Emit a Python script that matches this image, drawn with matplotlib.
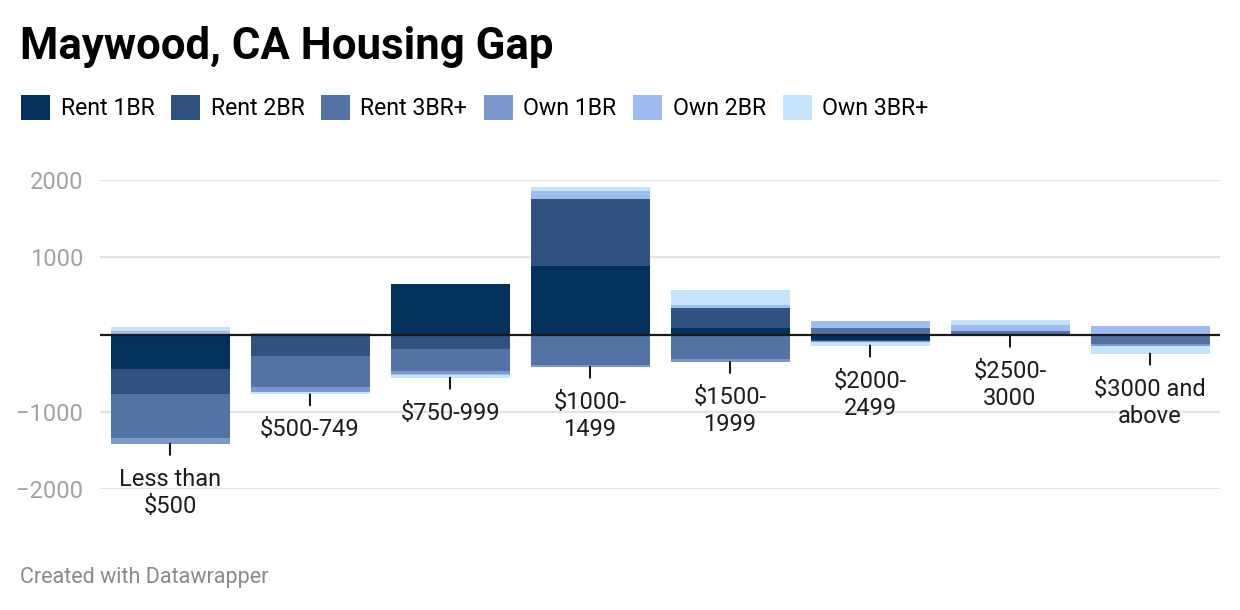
import matplotlib
matplotlib.use("Agg")
import matplotlib.pyplot as plt
from matplotlib.patches import Patch
import numpy as np

categories = ["Less than\n$500", "$500-749", "$750-999", "$1000-\n1499",
              "$1500-\n1999", "$2000-\n2499", "$2500-\n3000", "$3000 and\nabove"]
series_names = ["Rent 1BR", "Rent 2BR", "Rent 3BR+", "Own 1BR", "Own 2BR", "Own 3BR+"]

rent_1br = [-445, 0, 658, 892, 87, -69, 0, 0]
rent_2br = [-325, -273, -186, 857, 260, -17, 0, 0]
rent_3br = [-571, -411, -286, -394, -316, 87, 43, -117]
own_1br = [-74, -65, -35, -22, -39, -9, -15, -26]
own_2br = [43, 25, -17, 104, 39, 91, 78, 110]
own_3br = [52, -26, -35, 52, 195, -48, 65, -104]

colors = ["#03315c", "#2f5280", "#5373a4", "#7b99cf", "#9ebcf0", "#c6e3fc"]

plt.rcParams['font.family'] = ['Roboto', 'DejaVu Sans']

fig = plt.figure(figsize=(12.4, 6.1), dpi=100)
ax = fig.add_axes([100 / 1240, 1 - 489 / 610, 1120 / 1240, 309 / 610])

all_series = [rent_1br, rent_2br, rent_3br, own_1br, own_2br, own_3br]
x = np.arange(len(categories))
pos_base = np.zeros(len(categories))
neg_base = np.zeros(len(categories))
for name, vals, col in zip(series_names, all_series, colors):
    vals = np.array(vals, dtype=float)
    pos = np.where(vals > 0, vals, 0)
    neg = np.where(vals < 0, vals, 0)
    ax.bar(x, pos, 0.85, bottom=pos_base, color=col, linewidth=0, zorder=2)
    ax.bar(x, neg, 0.85, bottom=neg_base, color=col, linewidth=0, zorder=2)
    pos_base += pos
    neg_base += neg

ax.set_xlim(-0.5, len(categories) - 0.5)
ax.set_ylim(-2000, 2000)
ax.set_yticks([-2000, -1000, 1000, 2000])
ax.set_yticklabels(["\u22122000", "\u22121000", "1000", "2000"])
ax.tick_params(axis='y', length=0, pad=12, labelsize=17, labelcolor="#a3a3a3")
ax.set_xticks([])
ax.grid(axis='y', color="#e3e3e3", linewidth=1.6, zorder=0)
ax.axhline(0, color="#1a1a1a", linewidth=1.6, zorder=3)
for s in ax.spines.values():
    s.set_visible(False)

# category labels hang below each bar
for i, lab in enumerate(categories):
    b = neg_base[i]
    ax.annotate("", xy=(i, b), xytext=(0, -11), textcoords="offset pixels",
                arrowprops=dict(arrowstyle="-", color="#1a1a1a", lw=1.5,
                                shrinkA=0, shrinkB=0))
    ax.annotate(lab, xy=(i, b), xytext=(0, -24), textcoords="offset pixels",
                ha="center", va="top", fontsize=17, color="#1d1d1d",
                linespacing=1.25, annotation_clip=False)

fig.text(20 / 1240, 1 - 26 / 610, "Maywood, CA Housing Gap", fontsize=31.5,
         fontweight="bold", ha="left", va="top", color="#000000")

handles = [Patch(facecolor=c, edgecolor="none", label=n) for n, c in zip(series_names, colors)]
fig.legend(handles=handles, loc="upper left", bbox_to_anchor=(12 / 1240, 1 - 86 / 610),
           ncol=6, frameon=False, fontsize=16.7, handlelength=1.25, handleheight=1.25,
           handletextpad=0.45, columnspacing=0.72, borderaxespad=0)

fig.text(20 / 1240, 1 - 577 / 610, "Created with Datawrapper", fontsize=15.5,
         color="#8a8a8a", ha="left", va="center")

fig.savefig("out.png", dpi=100)
